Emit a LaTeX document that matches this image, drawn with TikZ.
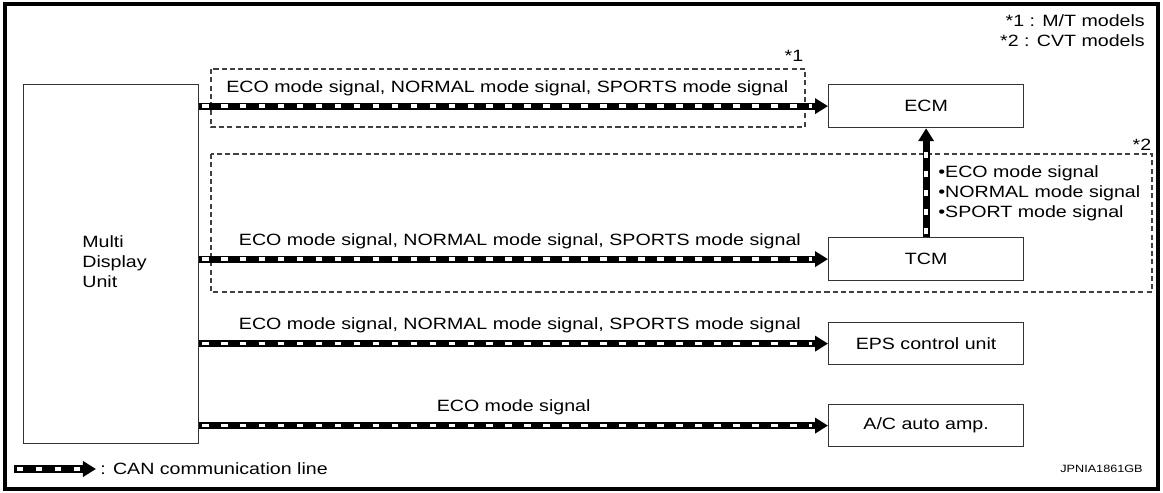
\documentclass[tikz,border=0pt]{standalone}
\usepackage{fontspec}
\setmainfont{Liberation Sans}[FakeStretch=1.2]
\usetikzlibrary{arrows.meta}
\begin{document}
\begin{tikzpicture}[x=0.02cm,y=-0.02cm,
  font=\fontsize{9.3}{11.4}\selectfont,
  unitbox/.style={draw=black!80,line width=0.7pt,minimum width=195*0.02cm,minimum height=43*0.02cm,inner sep=0pt,anchor=north west},
  groupbox/.style={draw=black!75,line width=0.6pt,dash pattern=on 2.9pt off 1.8pt},
  canline/.style={line width=4pt,draw=black,-{Triangle[length=7.4pt,width=8.6pt]},
     postaction={draw=white,line width=2pt,dash pattern=on 3.8pt off 7pt,dash phase=-1.5pt,-,shorten >=9pt}},
  sig/.style={above=4pt,inner sep=0pt}]
\useasboundingbox (0,0) rectangle (1163,493);
\draw[line width=2.3pt] (5,4) rectangle (1158,489);
% dashed groups
\draw[groupbox] (211,69) rectangle (805,127);
\draw[groupbox] (211,154) rectangle (1152,292);
\node (n1) at (794,56) {*1};
\node (n2) at (1142,145) {*2};
\node[anchor=east] (k1) at (1151,21) {*1 : M/T models};
\node[anchor=east] (k2) at (1151,41) {*2 : CVT models};
% boxes
\node[draw=black!80,line width=0.7pt,minimum width=175*0.02cm,minimum height=359*0.02cm,anchor=north west,inner sep=0pt] (mdu) at (23,84) {};
\node[anchor=west,align=left,inner sep=0pt] (mdut) at (82,262) {Multi\\Display\\Unit};
\node[unitbox] (ecm) at (828,84) {ECM};
\node[unitbox] (tcm) at (828,237) {TCM};
\node[unitbox,minimum height=42*0.02cm] (eps) at (828,322) {EPS control unit};
\node[unitbox,minimum height=42*0.02cm] (ac) at (828,404) {A/C auto amp.};
% connectors
\draw[canline] (mdu.east |- ecm.west) -- node[sig,pos=0.49] {ECO mode signal, NORMAL mode signal, SPORTS mode signal} (ecm.west);
\draw[canline] (mdu.east |- tcm.west) -- node[sig,pos=0.51] {ECO mode signal, NORMAL mode signal, SPORTS mode signal} (tcm.west);
\draw[canline] (mdu.east |- eps.west) -- node[sig,pos=0.51] {ECO mode signal, NORMAL mode signal, SPORTS mode signal} (eps.west);
\draw[canline] (mdu.east |- ac.west) -- node[sig,pos=0.5] {ECO mode signal} (ac.west);
\draw[canline] (tcm.north) -- (tcm.north |- ecm.south);
\node[anchor=north west,align=left,inner sep=0pt] (bl) at (938,165) {•ECO mode signal\\•NORMAL mode signal\\•SPORT mode signal};
% legend
\coordinate (lgs) at (14,469);
\coordinate (lge) at (96,469);
\draw[canline] (lgs) -- (lge);
\node[anchor=west,inner sep=0pt] (lgt) at (100,469) {: CAN communication line};
\node[anchor=east,inner sep=0pt,font=\fontsize{6}{7}\selectfont] (id) at (1143,469) {JPNIA1861GB};
\end{tikzpicture}
\end{document}
